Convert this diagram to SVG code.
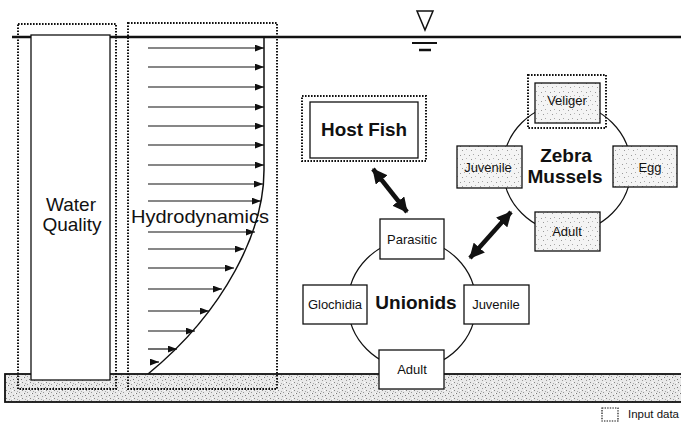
<svg xmlns="http://www.w3.org/2000/svg" width="681" height="426" viewBox="0 0 681 426">
<style>
.dot{fill:none;stroke:#111;stroke-width:2;stroke-dasharray:1.6 1.4}
.box{fill:#fff;stroke:#111;stroke-width:1.3}
.sbox{fill:url(#stip);stroke:#111;stroke-width:1.3}
.lab{font-family:"Liberation Sans",Arial,sans-serif;font-size:13px;fill:#111;text-anchor:middle}
.big{font-family:"Liberation Sans",Arial,sans-serif;font-size:19px;fill:#111;text-anchor:middle}
.bold{font-weight:bold}
.flow{stroke:#111;stroke-width:1.2;marker-end:url(#ah)}
.cyc{fill:none;stroke:#111;stroke-width:1.2}
.dbl{stroke:#111;stroke-width:4.5;marker-start:url(#bh);marker-end:url(#bh)}
</style>
<defs>
<pattern id="stip" width="9" height="9" patternUnits="userSpaceOnUse">
<rect width="9" height="9" fill="#f4f4f4"/>
<rect x="1" y="2" width="1" height="1" fill="#999"/>
<rect x="5" y="1" width="1" height="1" fill="#aaa"/>
<rect x="3" y="6" width="1" height="1" fill="#999"/>
<rect x="7" y="5" width="1" height="1" fill="#bbb"/>
</pattern>
<pattern id="sed" width="8" height="8" patternUnits="userSpaceOnUse">
<rect width="8" height="8" fill="#e9e9e9"/>
<rect x="0" y="1" width="1" height="1" fill="#777"/>
<rect x="3" y="0" width="1" height="1" fill="#999"/>
<rect x="5" y="3" width="1" height="1" fill="#777"/>
<rect x="2" y="4" width="1" height="1" fill="#999"/>
<rect x="6" y="6" width="1" height="1" fill="#888"/>
<rect x="1" y="7" width="1" height="1" fill="#aaa"/>
<rect x="7" y="1" width="1" height="1" fill="#fff"/>
<rect x="4" y="6" width="1" height="1" fill="#fff"/>
</pattern>
<marker id="ah" viewBox="0 0 8 6" refX="8" refY="3" markerWidth="9" markerHeight="7" markerUnits="userSpaceOnUse" orient="auto">
<path d="M0,0 L8,3 L0,6 Z" fill="#111"/>
</marker>
<marker id="bh" viewBox="0 0 14 14" refX="13" refY="7" markerWidth="15" markerHeight="15" markerUnits="userSpaceOnUse" orient="auto-start-reverse">
<path d="M0,0 L14,7 L0,14 Z" fill="#111"/>
</marker>
</defs>

<g id="sediment">
<rect x="5" y="374" width="680" height="28" fill="url(#sed)" stroke="#111" stroke-width="1.8"/>
</g>

<g id="water-surface">
<line x1="12" y1="37" x2="681" y2="37" stroke="#111" stroke-width="2.5"/>
<path d="M417,11 L433,11 L425,30 Z" fill="#fff" stroke="#111" stroke-width="1.5"/>
<line x1="412" y1="43" x2="437" y2="43" stroke="#111" stroke-width="2"/>
<line x1="419" y1="50" x2="431" y2="50" stroke="#111" stroke-width="2.5"/>
</g>

<g id="water-quality">
<rect x="31" y="35" width="79" height="345" class="box"/>
<rect x="18" y="24" width="98" height="365" class="dot"/>
<text class="big" x="71" y="211">Water</text>
<text class="big" x="72" y="231">Quality</text>
</g>

<g id="hydrodynamics">
<path d="M264,37 L264,170 C264,230 226,310 148,374" fill="none" stroke="#111" stroke-width="1.5"/>
<g>
<line class="flow" x1="148" y1="48" x2="264" y2="48"/>
<line class="flow" x1="148" y1="67" x2="264" y2="67"/>
<line class="flow" x1="148" y1="87" x2="264" y2="87"/>
<line class="flow" x1="148" y1="107" x2="264" y2="107"/>
<line class="flow" x1="148" y1="126" x2="264" y2="126"/>
<line class="flow" x1="148" y1="145" x2="264" y2="145"/>
<line class="flow" x1="148" y1="165" x2="264" y2="165"/>
<line class="flow" x1="148" y1="184" x2="263" y2="184"/>
<line class="flow" x1="148" y1="201" x2="261" y2="201"/>
<line class="flow" x1="148" y1="232" x2="255" y2="232"/>
<line class="flow" x1="148" y1="249" x2="244" y2="249"/>
<line class="flow" x1="148" y1="268" x2="234" y2="268"/>
<line class="flow" x1="148" y1="289" x2="222" y2="289"/>
<line class="flow" x1="148" y1="311" x2="209" y2="311"/>
<line class="flow" x1="148" y1="331" x2="195" y2="331"/>
<line class="flow" x1="148" y1="349" x2="177" y2="349"/>
<line class="flow" x1="151" y1="362" x2="159" y2="362"/>
</g>
<rect x="128" y="23" width="149" height="366" class="dot"/>
<text class="big" x="200" y="223" textLength="138" lengthAdjust="spacingAndGlyphs">Hydrodynamics</text>
</g>

<g id="connectors">
<line class="dbl" x1="373" y1="169" x2="407" y2="212"/>
<line class="dbl" x1="470" y1="258" x2="511" y2="212"/>
</g>

<g id="host-fish">
<rect x="310" y="102" width="108" height="56" class="box"/>
<rect x="302" y="96" width="124" height="65" class="dot"/>
<text class="big bold" x="364" y="136" textLength="86" lengthAdjust="spacingAndGlyphs">Host Fish</text>
</g>

<g id="zebra-mussels">
<circle cx="567" cy="168" r="64" class="cyc"/>
<text class="big bold" x="566" y="162">Zebra</text>
<text class="big bold" x="565" y="183">Mussels</text>
</g>
<g id="zm-veliger">
<rect x="535" y="83" width="65" height="40" class="sbox"/>
<rect x="528" y="75" width="78" height="53" class="dot"/>
<text class="lab" x="567" y="105">Veliger</text>
</g>
<g id="zm-juvenile">
<rect x="457" y="146" width="65" height="42" class="sbox"/>
<text class="lab" x="488" y="172">Juvenile</text>
</g>
<g id="zm-egg">
<rect x="613" y="146" width="64" height="41" class="sbox"/>
<text class="lab" x="650" y="172">Egg</text>
</g>
<g id="zm-adult">
<rect x="535" y="212" width="65" height="39" class="sbox"/>
<text class="lab" x="567" y="236">Adult</text>
</g>

<g id="unionids">
<circle cx="412" cy="304" r="64" class="cyc"/>
<text class="big bold" x="416" y="309">Unionids</text>
</g>
<g id="un-parasitic">
<rect x="380" y="219" width="64" height="40" class="box"/>
<text class="lab" x="412" y="244">Parasitic</text>
</g>
<g id="un-glochidia">
<rect x="303" y="285" width="64" height="39" class="box"/>
<text class="lab" x="335" y="309">Glochidia</text>
</g>
<g id="un-juvenile">
<rect x="464" y="285" width="65" height="39" class="box"/>
<text class="lab" x="496" y="309">Juvenile</text>
</g>
<g id="un-adult">
<rect x="379" y="350" width="65" height="39" class="box"/>
<text class="lab" x="412" y="374">Adult</text>
</g>

<g id="legend">
<rect x="602" y="408" width="16" height="13" fill="none" stroke="#111" stroke-width="1.2" stroke-dasharray="1.4 1.2"/>
<text x="628" y="418" font-family="'Liberation Sans',Arial,sans-serif" font-size="11" fill="#111" textLength="51" lengthAdjust="spacingAndGlyphs">Input data</text>
</g>
</svg>
